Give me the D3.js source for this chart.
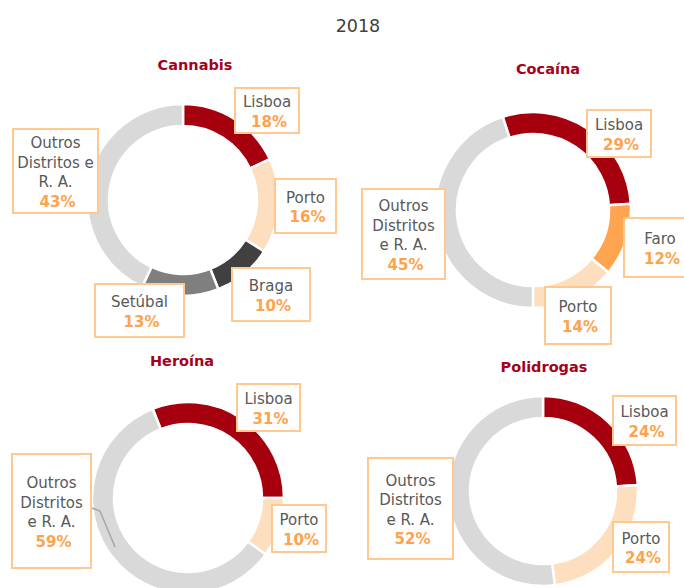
<!DOCTYPE html>
<html>
<head>
<meta charset="utf-8">
<script src="https://cdn.jsdelivr.net/npm/d3@7"></script>
<style>
  html, body { margin: 0; padding: 0; background: #fff; }
  svg { display: block; }
</style>
</head>
<body>
<svg id="chart" width="684" height="588"></svg>
<script>
// Distribution by district, 2018 (percent of total)
const year = "2018";
const drugs = ["Cannabis", "Cocaína", "Heroína", "Polidrogas"];

const cannabisDistricts = ["Lisboa", "Porto", "Braga", "Setúbal", "Outros Distritos e R. A."];
const cannabisValues    = [18, 16, 10, 13, 43];

const cocainaDistricts = ["Lisboa", "Faro", "Porto", "Outros Distritos e R. A."];
const cocainaValues    = [29, 12, 14, 45];

const heroinaDistricts = ["Lisboa", "Porto", "Outros Distritos e R. A."];
const heroinaValues    = [31, 10, 59];

const polidrogasDistricts = ["Lisboa", "Porto", "Outros Distritos e R. A."];
const polidrogasValues    = [24, 24, 52];

// Colours per district
const districtColor = d3.scaleOrdinal()
  .domain(["Lisboa", "Porto", "Braga", "Setúbal", "Faro", "Outros Distritos e R. A."])
  .range(["#A6000F", "#FDDFC0", "#404040", "#7F7F7F", "#FFA54F", "#D9D9D9"]);

// Layout of each donut and its callout boxes
const layouts = [
  { cx: 183, cy: 200, r: 96, start: 0, titleX: 195, titleY: 70,
    boxes: [
      { x: 235, y: 88,  w: 64, h: 45, lines: ["Lisboa"] },
      { x: 275, y: 179, w: 61, h: 54, lines: ["Porto"] },
      { x: 232, y: 268, w: 78, h: 53, lines: ["Braga"] },
      { x: 95,  y: 284, w: 89, h: 53, lines: ["Setúbal"] },
      { x: 13,  y: 129, w: 85, h: 84, lines: ["Outros", "Distritos e", "R. A."] }
    ] },
  { cx: 533, cy: 210, r: 98, start: -18, titleX: 548, titleY: 74,
    boxes: [
      { x: 587, y: 110, w: 64, h: 47, lines: ["Lisboa"] },
      { x: 624, y: 218, w: 72, h: 59, lines: ["Faro"] },
      { x: 545, y: 287, w: 66, h: 57, lines: ["Porto"] },
      { x: 362, y: 189, w: 83, h: 90, lines: ["Outros", "Distritos", "e R. A."] }
    ] },
  { cx: 188, cy: 498, r: 96, start: -21.6, titleX: 182, titleY: 366,
    boxes: [
      { x: 237, y: 384, w: 63, h: 47, lines: ["Lisboa"] },
      { x: 272, y: 505, w: 54, h: 47, lines: ["Porto"] },
      { x: 12,  y: 454, w: 79, h: 114, lines: ["Outros", "Distritos", "e R. A."] }
    ],
    leader: [[92, 508], [100, 511], [115, 547]] },
  { cx: 543, cy: 491, r: 95, start: 0, titleX: 544, titleY: 372,
    boxes: [
      { x: 613, y: 396, w: 63, h: 49, lines: ["Lisboa"] },
      { x: 613, y: 522, w: 56, h: 50, lines: ["Porto"] },
      { x: 368, y: 458, w: 85, h: 101, lines: ["Outros", "Distritos", "e R. A."] }
    ] }
];

const seriesDistricts = [cannabisDistricts, cocainaDistricts, heroinaDistricts, polidrogasDistricts];
const seriesValues = [cannabisValues, cocainaValues, heroinaValues, polidrogasValues];

const svg = d3.select("#chart");
const FONT = "'DejaVu Sans', sans-serif";

svg.append("text")
  .attr("x", 358).attr("y", 32)
  .attr("text-anchor", "middle")
  .attr("font-family", FONT)
  .attr("font-size", 17.5)
  .attr("fill", "#404040")
  .text(year);

const rad = Math.PI / 180;
const lineH = 19.5;

drugs.forEach((drug, i) => {
  const L = layouts[i];
  const rows = seriesDistricts[i].map((name, j) => ({ name, value: seriesValues[i][j] }));

  const pie = d3.pie()
    .sort(null)
    .value(d => d.value)
    .startAngle(L.start * rad)
    .endAngle(L.start * rad + 2 * Math.PI);

  const arc = d3.arc()
    .innerRadius(L.r - 22)
    .outerRadius(L.r);

  const g = svg.append("g").attr("transform", `translate(${L.cx},${L.cy})`);

  g.selectAll("path")
    .data(pie(rows))
    .join("path")
    .attr("d", arc)
    .attr("fill", d => districtColor(d.data.name))
    .attr("stroke", "#fff")
    .attr("stroke-width", 2.5);

  svg.append("text")
    .attr("x", L.titleX).attr("y", L.titleY)
    .attr("text-anchor", "middle")
    .attr("font-family", FONT)
    .attr("font-size", 14.5)
    .attr("font-weight", "bold")
    .attr("fill", "#A6001A")
    .text(drug);

  if (L.leader) {
    svg.append("polyline")
      .attr("points", L.leader.map(p => p.join(",")).join(" "))
      .attr("fill", "none")
      .attr("stroke", "#A6A6A6")
      .attr("stroke-width", 1.5);
  }

  // Callout boxes: district name and its share
  L.boxes.forEach((b, j) => {
    const row = rows[j];
    const bg = svg.append("g");
    bg.append("rect")
      .attr("x", b.x).attr("y", b.y)
      .attr("width", b.w).attr("height", b.h)
      .attr("fill", "#fff")
      .attr("stroke", "#FFC890")
      .attr("stroke-width", 2);

    const n = b.lines.length + 1;
    const first = b.y + b.h / 2 - (n - 1) * lineH / 2 + 6.5;
    const cx = b.x + b.w / 2;
    b.lines.forEach((t, k) => {
      bg.append("text")
        .attr("x", cx).attr("y", first + k * lineH)
        .attr("text-anchor", "middle")
        .attr("font-family", FONT)
        .attr("font-size", 15)
        .attr("fill", "#595959")
        .text(t);
    });
    bg.append("text")
      .attr("x", cx + 2).attr("y", first + (n - 1) * lineH)
      .attr("text-anchor", "middle")
      .attr("font-family", FONT)
      .attr("font-size", 15)
      .attr("font-weight", "bold")
      .attr("fill", "#FFA24C")
      .text(row.value + "%");
  });
});
</script>
</body>
</html>
